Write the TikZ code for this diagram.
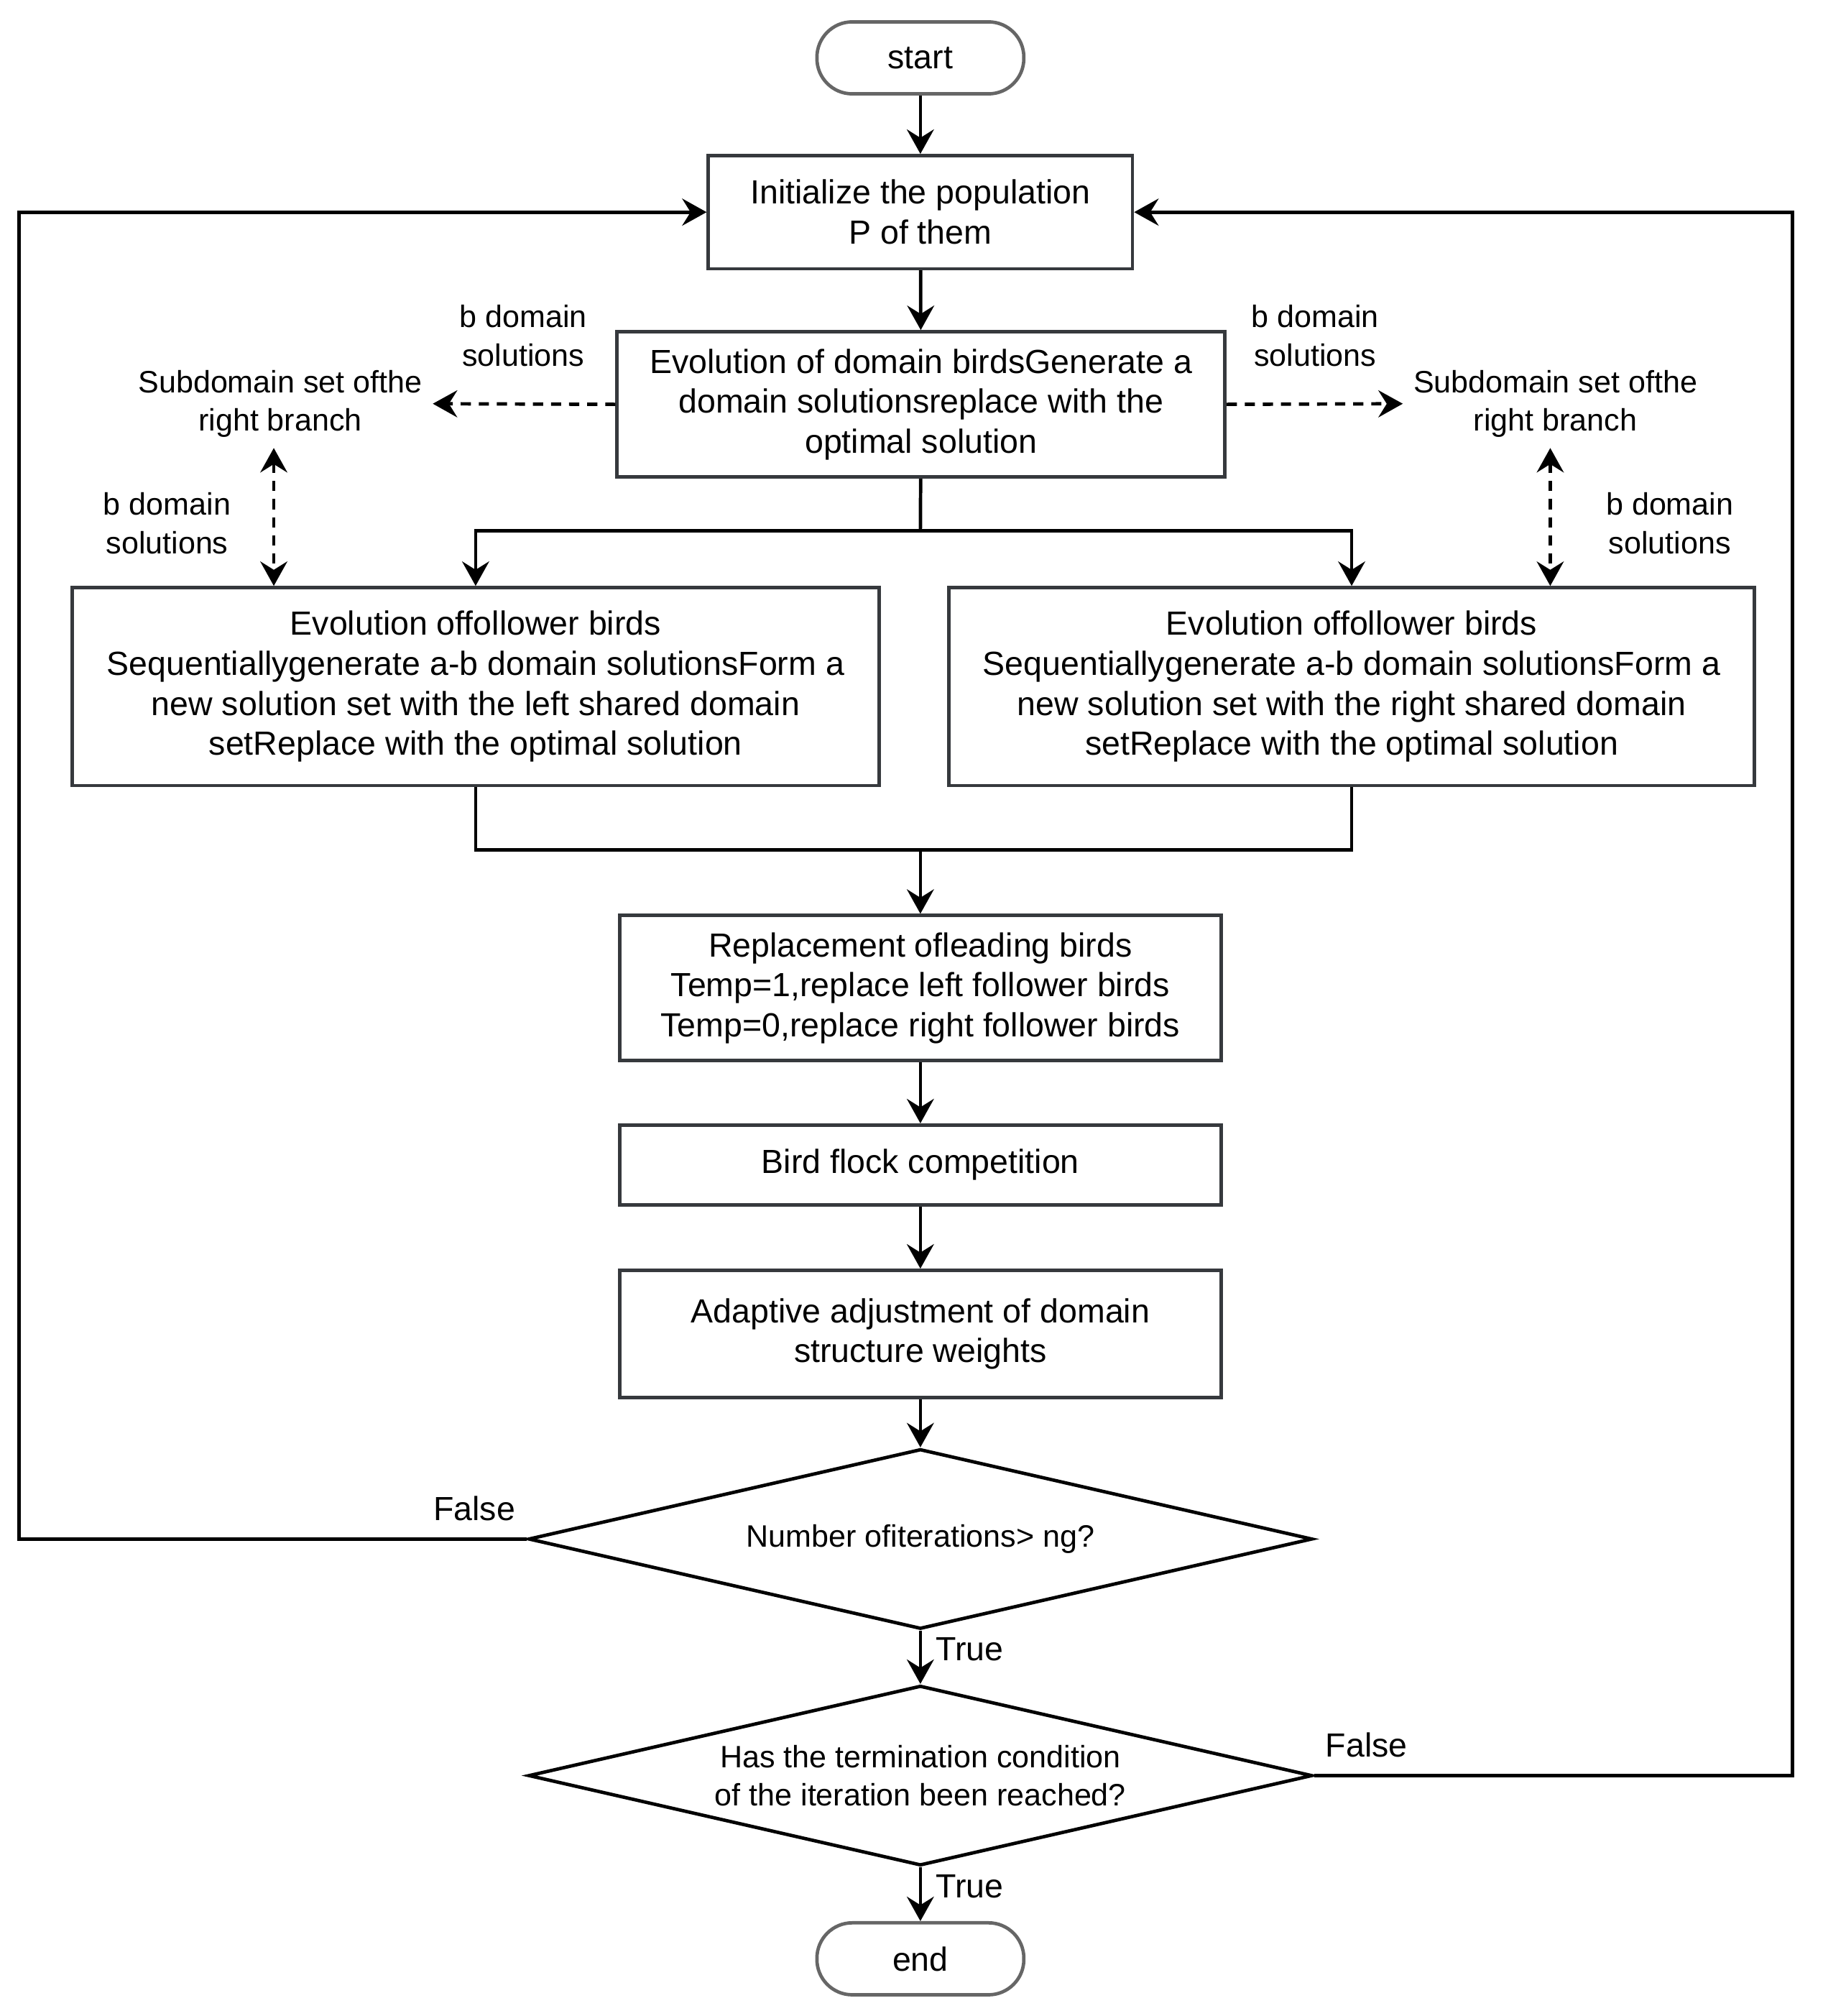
\documentclass[tikz,border=0pt]{standalone}
\usepackage{fontspec}
\setmainfont{Liberation Sans}
\usetikzlibrary{positioning,arrows.meta,shapes.geometric}
\definecolor{boxline}{HTML}{36393D}
\definecolor{termline}{HTML}{666666}

\begin{document}
\begin{tikzpicture}[x=0.02cm,y=-0.02cm, >={Stealth[length=0.38cm,width=0.42cm,inset=0.13cm]}, line width=1.5pt,
    every node/.style={font=\fontsize{14.8}{17.7}\selectfont},
    proc/.style={rectangle,draw=boxline,fill=white,align=center,inner sep=0pt},
    term/.style={rectangle,rounded corners=0.55cm,draw=termline,fill=white,minimum width=3.22cm,minimum height=1.12cm},
    decide/.style={diamond,aspect=4.357,draw=black,fill=white,align=center,inner sep=0pt,minimum width=12.2cm,minimum height=2.8cm,font=\fontsize{13.7}{17}\selectfont},
    note/.style={align=center,inner sep=0.14cm,font=\fontsize{13.7}{17}\selectfont},
    side/.style={dash pattern=on 4.5pt off 3.5pt}]
        \useasboundingbox (0,0) rectangle (1418,1568);
        % main column
        \node[term] (start) at (716,45) {start};
        \node[proc,minimum width=6.6cm,minimum height=1.76cm] (init) at (716,165) {Initialize the population\\P of them};
        \node[proc,minimum width=9.46cm,minimum height=2.26cm] (evo) at (716.5,314.5) {Evolution of domain birdsGenerate a\\domain solutionsreplace with the\\optimal solution};
        \node[proc,minimum width=12.56cm,minimum height=3.08cm] (left) at (370,534) {Evolution offollower birds\\Sequentiallygenerate a-b domain solutionsForm a\\new solution set with the left shared domain\\setReplace with the optimal solution};
        \node[proc,minimum width=12.54cm,minimum height=3.08cm] (right) at (1051.5,534) {Evolution offollower birds\\Sequentiallygenerate a-b domain solutionsForm a\\new solution set with the right shared domain\\setReplace with the optimal solution};
        \node[proc,minimum width=9.36cm,minimum height=2.26cm] (repl) at (716,768.5) {Replacement ofleading birds\\Temp=1,replace left follower birds\\Temp=0,replace right follower birds};
        \node[proc,minimum width=9.36cm,minimum height=1.24cm] (flock) at (716,906) {Bird flock competition};
        \node[proc,minimum width=9.36cm,minimum height=1.98cm] (adapt) at (716,1037.5) {Adaptive adjustment of domain\\structure weights};
        \node[decide] (iter) at (716,1197) {Number ofiterations> ng?};
        \node[decide] (stop) at (716,1381) {Has the termination condition\\of the iteration been reached?};
        \node[term] (end) at (716,1523.5) {end};
        % side notes
        \node[note] (subL) at (218,314) {Subdomain set ofthe\\right branch};
        \node[note] (subR) at (1210,314) {Subdomain set ofthe\\right branch};
        \node[note] (bL1) at (407,261) {b domain\\solutions};
        \node[note] (bR1) at (1023,261) {b domain\\solutions};
        \node[note] (bL2) at (130,407) {b domain\\solutions};
        \node[note] (bR2) at (1299,407) {b domain\\solutions};
        \coordinate (split) at (716,413);
        \coordinate (join) at (716,661);
        % connectors
        \draw[->] (start) -- (init);
        \draw[->] (init) -- (evo);
        \draw (evo) -- (split);
        \draw[->] (split) -| (left.north);
        \draw[->] (split) -| (right.north);
        \draw (left.south) |- (join);
        \draw (right.south) |- (join);
        \draw[->] (join) -- (repl);
        \draw[->] (repl) -- (flock);
        \draw[->] (flock) -- (adapt);
        \draw[->] (adapt) -- (iter);
        \draw[->] (iter) -- node[right=0.1cm,pos=0.35] (t1) {True} (stop);
        \draw[->] (stop) -- node[right=0.1cm,pos=0.35] (t2) {True} (end);
        \draw[->] (iter.west) -- ++(-395,0) |- (init.west);
        \draw[->] (stop.east) -- ++(372,0) |- (init.east);
        \node (f1) at (369,1173) {False};
        \node (f2) at (1063,1357) {False};
        \draw[->,side] (evo.west) -- (subL.east);
        \draw[->,side] (evo.east) -- (subR.west);
        \draw[<->,side] ([xshift=-0.1cm]subL.south) -- ([xshift=-0.1cm]subL.south |- left.north);
        \draw[<->,side] ([xshift=-0.08cm]subR.south) -- ([xshift=-0.08cm]subR.south |- right.north);
\end{tikzpicture}
\end{document}
